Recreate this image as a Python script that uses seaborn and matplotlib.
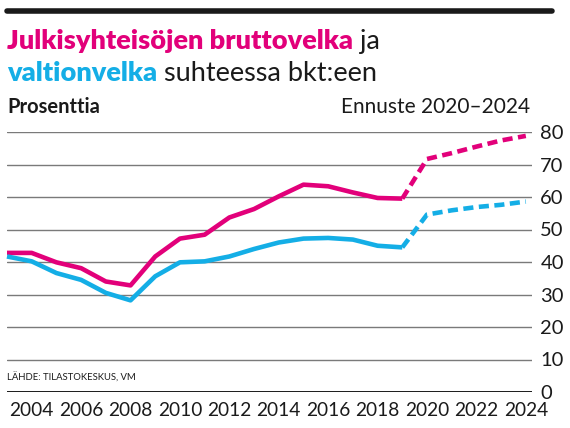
import numpy as np
import pandas as pd
import matplotlib
matplotlib.use("Agg")
import matplotlib.pyplot as plt
import seaborn as sns
from matplotlib.lines import Line2D

# data (percent of GDP)
years = list(range(2003, 2025))
gross_debt = [42.8, 42.8, 39.9, 38.1, 34.0, 32.8, 41.7, 47.2, 48.4, 53.7, 56.3, 60.2,
              63.8, 63.3, 61.4, 59.7, 59.5, 71.7, 73.5, 75.5, 77.4, 78.8]
state_debt = [41.7, 40.2, 36.6, 34.5, 30.5, 28.2, 35.6, 39.9, 40.2, 41.7, 44.0, 46.0,
              47.2, 47.4, 46.9, 45.0, 44.5, 54.6, 55.9, 56.9, 57.6, 58.6]
forecast_start = 2019
x_ticks = list(range(2004, 2025, 2))
y_ticks = list(range(0, 81, 10))

MAGENTA = "#e2007a"
CYAN = "#14aee6"

df = pd.DataFrame({"year": years, "gross": gross_debt, "state": state_debt})
hist = df[df["year"] <= forecast_start]
fcst = df[df["year"] >= forecast_start]

sns.set_style("white")
plt.rcParams["font.family"] = ["Lato", "DejaVu Sans"]

fig = plt.figure(figsize=(5.7, 4.28), dpi=100)
ax = fig.add_axes([7 / 570, 1 - 392 / 428, 525 / 570, 260 / 428])

for col, color in [("gross", MAGENTA), ("state", CYAN)]:
    sns.lineplot(data=hist, x="year", y=col, ax=ax, color=color, lw=3.3,
                 solid_capstyle="butt", solid_joinstyle="round", clip_on=False)
    sns.lineplot(data=fcst, x="year", y=col, ax=ax, color=color, lw=3.3,
                 dashes=False, clip_on=False).lines[-1].set_dashes((2.2, 1.2))

ax.set_xlim(2003, 2024.25)
ax.set_ylim(0, 80)
for v in y_ticks[1:]:
    ax.axhline(v, color="#7a7a7a", lw=1.0, zorder=0)
ax.axhline(0, color="#1a1a1a", lw=1.4, zorder=0)

ax.yaxis.tick_right()
ax.set_yticks(y_ticks)
ax.set_xticks(x_ticks)
ax.set_xticklabels([str(t) for t in x_ticks], fontsize=13.8, color="#1a1a1a")
ax.set_yticklabels([str(t) for t in y_ticks], fontsize=14.5, color="#1a1a1a")
ax.tick_params(axis="both", length=0)
ax.tick_params(axis="x", pad=7)
ax.tick_params(axis="y", pad=6)
ax.set_xlabel("")
ax.set_ylabel("")
for s in ax.spines.values():
    s.set_visible(False)

# top black rule
fig.add_artist(Line2D([7 / 570, 552 / 570], [1 - 10.5 / 428] * 2, color="#1a1a1a",
                      lw=4, transform=fig.transFigure))

# title made of coloured pieces
fig.canvas.draw()
renderer = fig.canvas.get_renderer()


def pieces(parts, x0, y0):
    x = x0
    for txt, color, weight in parts:
        t = fig.text(x, y0, txt, color=color, fontsize=19.5, fontweight=weight,
                     va="baseline", ha="left")
        bb = t.get_window_extent(renderer=renderer)
        x += bb.width / fig.bbox.width


pieces([("Julkisyhteisöjen bruttovelka", MAGENTA, "heavy"), (" ja", "#1a1a1a", "normal")],
       7 / 570, 1 - 49 / 428)
pieces([("valtionvelka", CYAN, "heavy"), (" suhteessa bkt:een", "#1a1a1a", "normal")],
       7 / 570, 1 - 81 / 428)

fig.text(7 / 570, 1 - 113 / 428, "Prosenttia", fontsize=14.5, fontweight="bold",
         color="#1a1a1a", va="baseline")
fig.text(530 / 570, 1 - 113 / 428, "Ennuste 2020–2024", fontsize=15,
         color="#1a1a1a", va="baseline", ha="right")
fig.text(7 / 570, 1 - 381 / 428, "LÄHDE: TILASTOKESKUS, VM", fontsize=6.8,
         color="#1a1a1a", va="baseline")

fig.savefig("out.png", dpi=100)
